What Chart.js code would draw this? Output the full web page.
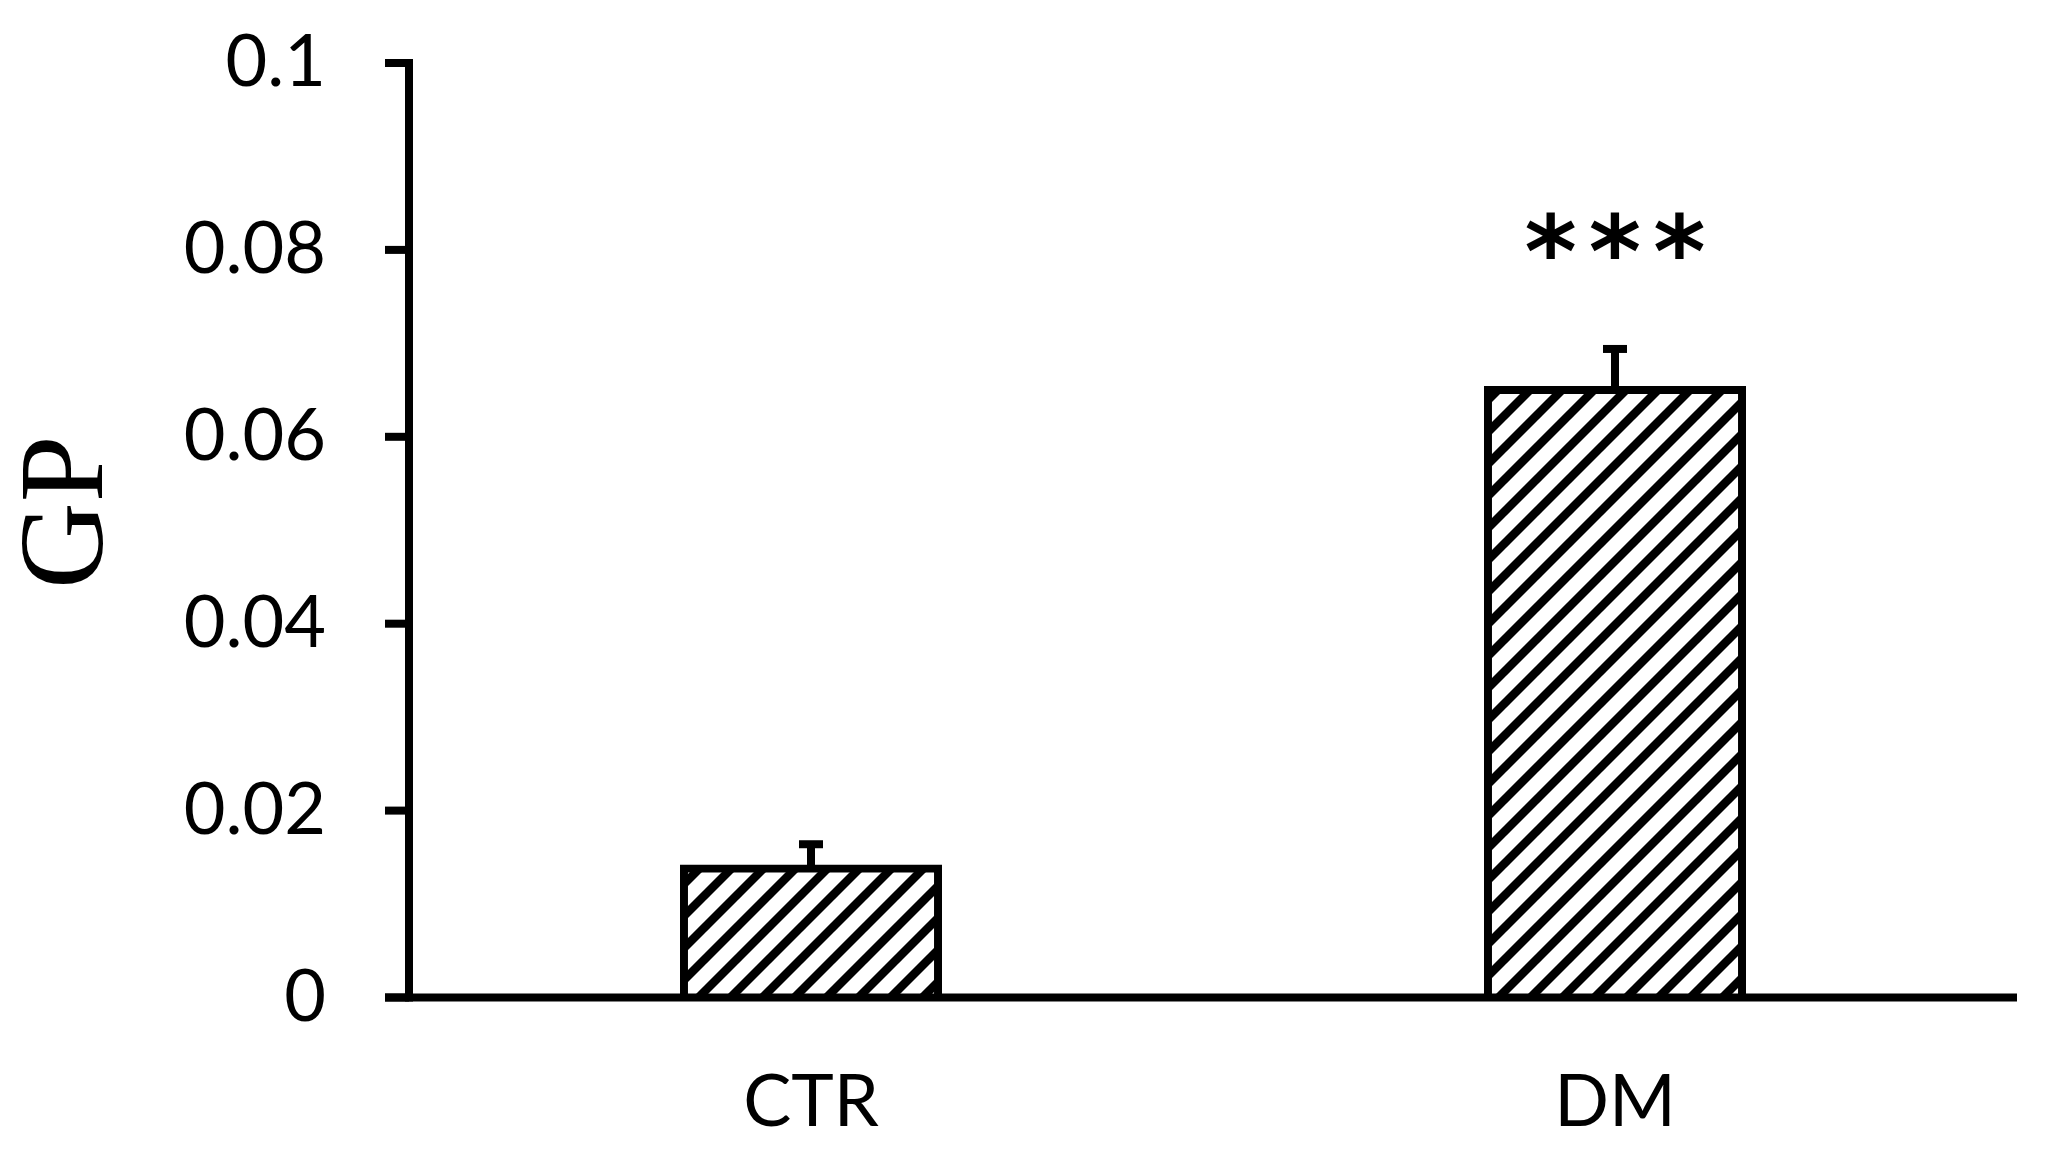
<!DOCTYPE html>
<html><head><meta charset="utf-8">
<script src="https://cdn.jsdelivr.net/npm/chart.js@4.4.0/dist/chart.umd.min.js"></script>
<style>html,body{margin:0;padding:0;background:#fff;overflow:hidden}#wrap{width:2071px;height:1165px;position:relative}</style>
</head><body><div id="wrap"><canvas id="c" width="2071" height="1165"></canvas></div>
<script>
const categories = ['CTR', 'DM'];
const values = [0.0138, 0.065];
const errors = [0.0026, 0.0044];
const significance = ['', '***'];
const yTickValues = [0, 0.02, 0.04, 0.06, 0.08, 0.1];
const yTickLabels = ['0', '0.02', '0.04', '0.06', '0.08', '0.1'];
const yAxisTitle = 'GP';

function makeHatch() {
  const s = 32;
  const c = document.createElement('canvas');
  c.width = s; c.height = s;
  const g = c.getContext('2d');
  g.fillStyle = '#fff'; g.fillRect(0, 0, s, s);
  g.strokeStyle = '#000'; g.lineWidth = 8.5;
  g.beginPath();
  g.moveTo(-6, s + 6); g.lineTo(s + 6, -6);
  g.moveTo(-6, 6); g.lineTo(6, -6);
  g.moveTo(s - 6, s + 6); g.lineTo(s + 6, s - 6);
  g.stroke();
  return g.createPattern(c, 'repeat');
}

const AXIS_W = 8, TICK_LEN = 24;
const overlay = {
  id: 'overlay',
  afterDatasetsDraw(chart) {
    const ctx = chart.ctx;
    const xs = chart.scales.x, ys = chart.scales.y;
    const ca = chart.chartArea;
    ctx.save();
    ctx.fillStyle = '#000';
    const meta = chart.getDatasetMeta(0);
    meta.data.forEach((bar, i) => {
      const cx = bar.x;
      const yTop = ys.getPixelForValue(values[i] + errors[i]);
      const yBar = ys.getPixelForValue(values[i]);
      ctx.fillRect(cx - 4, yTop, 8, yBar - yTop);
      ctx.fillRect(cx - 12, yTop - 4, 24, 8);
      if (significance[i]) {
        ctx.font = 'bold 100px "DejaVu Sans"';
        ctx.letterSpacing = '12px';
        ctx.textAlign = 'center';
        ctx.textBaseline = 'alphabetic';
        const m = ctx.measureText(significance[i]);
        const cy = yTop - 113;
        const by = cy + (m.actualBoundingBoxAscent - m.actualBoundingBoxDescent) / 2;
        ctx.fillText(significance[i], cx + 6, by);
        ctx.letterSpacing = '0px';
      }
    });
    const y0 = ys.getPixelForValue(0);
    const yMax = ys.getPixelForValue(yTickValues[yTickValues.length - 1]);
    ctx.fillRect(ca.left - AXIS_W / 2, yMax - AXIS_W / 2, AXIS_W, y0 - yMax + AXIS_W);
    yTickValues.forEach(v => {
      const py = ys.getPixelForValue(v);
      ctx.fillRect(ca.left - TICK_LEN, py - AXIS_W / 2, TICK_LEN, AXIS_W);
    });
    ctx.fillRect(ca.left - TICK_LEN, y0 - AXIS_W / 2, ca.right - (ca.left - TICK_LEN), AXIS_W);
    ctx.save();
    ctx.font = '120px "Liberation Serif"';
    ctx.textAlign = 'center';
    ctx.textBaseline = 'alphabetic';
    const tm = ctx.measureText(yAxisTitle);
    ctx.translate(62, (ca.top + ca.bottom) / 2 - 18);
    ctx.rotate(-Math.PI / 2);
    ctx.fillText(yAxisTitle, 0, (tm.actualBoundingBoxAscent - tm.actualBoundingBoxDescent) / 2);
    ctx.restore();
    ctx.restore();
  }
};

const chart = new Chart(document.getElementById('c'), {
  type: 'bar',
  data: {
    labels: categories,
    datasets: [{
      data: values,
      backgroundColor: makeHatch(),
      borderColor: '#000',
      borderWidth: 8,
      inflateAmount: 4,
      barPercentage: 0.316,
      categoryPercentage: 1.0
    }]
  },
  options: {
    responsive: false,
    devicePixelRatio: 1,
    animation: false,
    layout: { padding: { top: 63, right: 54, left: 0, bottom: 0 } },
    plugins: { legend: { display: false }, tooltip: { enabled: false } },
    scales: {
      x: {
        grid: { display: false, drawTicks: false },
        border: { display: false },
        ticks: { color: '#000', font: { family: 'Lato', size: 72 }, padding: 62, maxRotation: 0 },
        afterFit(s) { s.height = 167.5; s.paddingLeft = 0; s.paddingRight = 0; }
      },
      y: {
        min: 0, max: 0.1,
        grid: { display: false, drawTicks: false },
        border: { display: false },
        afterBuildTicks(s) { s.ticks = yTickValues.map(v => ({ value: v })); },
        ticks: {
          color: '#000', font: { family: 'Lato', size: 72 }, padding: 83,
          callback: (v, i) => yTickLabels[i]
        },
        afterFit(s) { s.width = 409; s.paddingTop = 0; s.paddingBottom = 0; }
      }
    }
  },
  plugins: [overlay]
});
</script>
</body></html>
